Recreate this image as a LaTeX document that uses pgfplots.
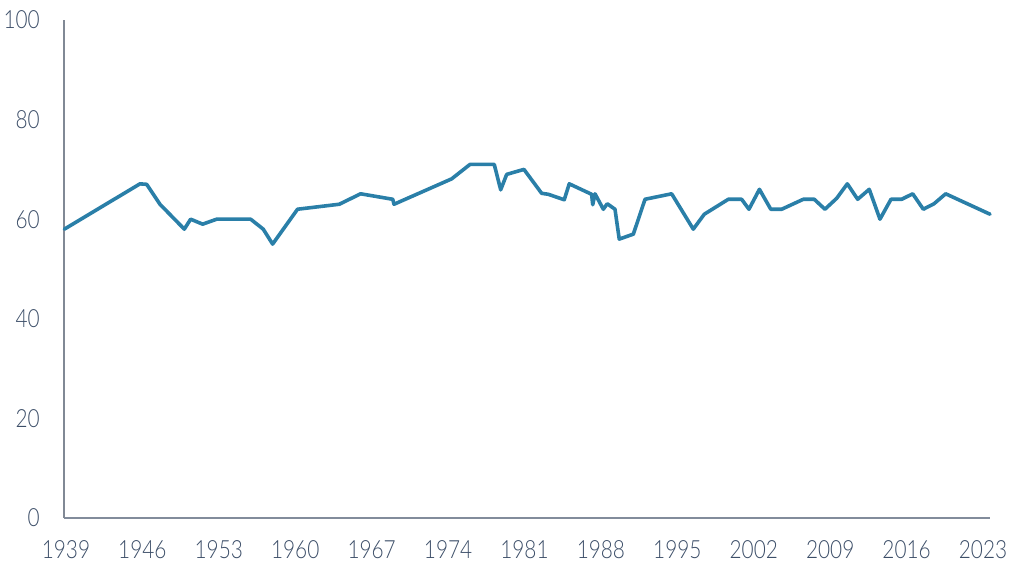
\documentclass[border=0pt]{standalone}
\usepackage{pgfplots}
\pgfplotsset{compat=1.18}
\usepackage{fontspec}
\setmainfont{Lato}[FakeStretch=0.83, UprightFont=* Light]
\definecolor{linecol}{RGB}{42,127,168}
\definecolor{txtcol}{RGB}{60,78,104}
\definecolor{axcol}{RGB}{130,140,155}
\pgfplotstableread{
x y
1938.85 58.0
1945.78 67.1
1946.39 67.0
1947.61 63.0
1949.84 58.0
1950.42 60.0
1951.52 59.0
1952.80 60.0
1955.92 60.0
1957.07 58.0
1957.93 55.0
1960.21 62.0
1964.03 63.0
1965.99 65.1
1968.93 64.0
1969.05 63.0
1974.33 68.1
1976.01 71.0
1978.23 71.0
1978.82 65.9
1979.37 69.0
1980.95 70.0
1982.57 65.2
1983.18 65.0
1984.64 63.9
1985.10 67.1
1987.15 65.0
1987.25 62.9
1987.46 65.1
1988.22 62.0
1988.58 63.1
1989.29 62.0
1989.68 56.0
1990.97 57.0
1992.04 64.0
1994.48 65.1
1996.46 58.0
1997.47 61.0
1999.67 64.0
2000.89 64.0
2001.56 62.0
2002.52 66.0
2003.56 62.0
2004.56 62.0
2006.54 64.0
2007.54 64.0
2008.52 62.0
2009.60 64.2
2010.57 67.1
2011.52 64.0
2012.58 66.0
2013.56 60.0
2014.57 64.0
2015.55 64.0
2016.56 65.1
2017.53 62.0
2018.51 63.1
2019.58 65.1
2023.64 61.0
}\datatable
\begin{document}
\begin{tikzpicture}
\begin{axis}[
  at={(0,0)}, anchor=south west,
  scale only axis,
  width=694.5pt, height=373.5pt,
  xmin=1938.82, xmax=2023.64,
  ymin=0, ymax=100,
  enlargelimits=false,
  axis x line*=bottom, axis y line*=left,
  x axis line style={-, draw=axcol, line width=1.1pt},
  y axis line style={-, draw=axcol!80!gray, line width=1.1pt},
  major tick length=0pt,
  /pgf/number format/assume math mode=true,
  xtick={1939,1946,...,2023},
  ytick={0,20,...,100},
  xticklabel style={anchor=north, inner sep=0pt, yshift=-17pt, font=\fontsize{18.8}{20}\selectfont, text=txtcol},
  yticklabel style={anchor=east, inner sep=0pt, xshift=-18pt, font=\fontsize{18.8}{20}\selectfont, text=txtcol},
  xticklabel={\pgfmathprintnumber[precision=0,1000 sep={},assume math mode=true]{\tick}},
  yticklabel={\pgfmathprintnumber[precision=0,assume math mode=true]{\tick}},
  clip=false,
]
\addplot[color=linecol, line width=2.7pt, line join=round, line cap=round, no markers] table[x=x,y=y] {\datatable};
\end{axis}
\pgfresetboundingbox
\useasboundingbox (-48pt,-39pt) rectangle (720pt,388.5pt);
\end{tikzpicture}
\end{document}
